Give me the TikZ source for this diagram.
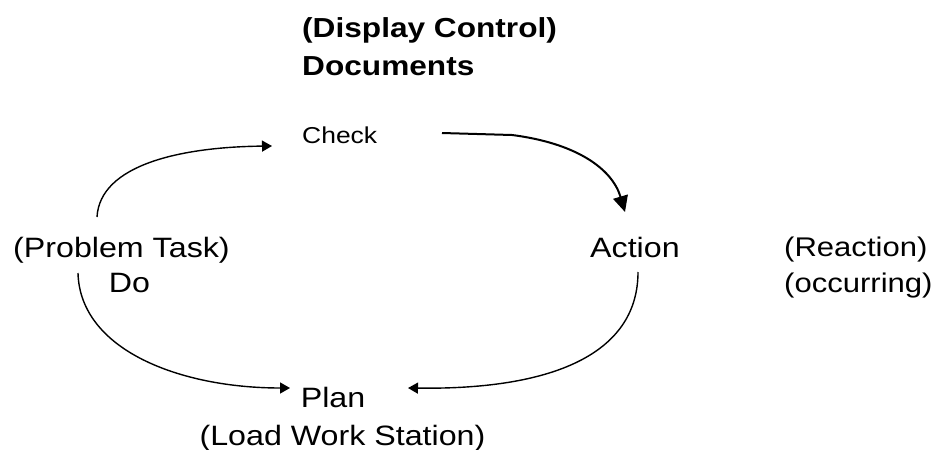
\documentclass[tikz,border=0pt]{standalone}
\usepackage{fontspec}
\setmainfont{Liberation Sans}[FakeStretch=1.15]
\usetikzlibrary{arrows.meta}
\begin{document}
\begin{tikzpicture}[x=1pt,y=-1pt,
  lbl/.style={inner sep=0pt, anchor=base west, font=\fontsize{28}{33}\selectfont},
  clbl/.style={lbl, anchor=base},
  side/.style={lbl, font=\fontsize{27}{32}\selectfont},
  head/.style={lbl, font=\fontsize{27.5}{33}\selectfont\bfseries},
  flow/.style={line width=1.4pt, -{Triangle[length=10pt,width=11pt]}},
  heavyflow/.style={line width=2pt, -{Triangle[length=16pt,width=15pt]}}]
\useasboundingbox (0,0) rectangle (938,450);

% labels
\node[head] (disp) at (302,37) {(Display Control)};
\node[head] (docs) at (302,75) {Documents};
\node[lbl, font=\fontsize{23}{28}\selectfont] (check) at (302,143) {Check};
\node[lbl] (task) at (13,257) {(Problem Task)};
\node[clbl] (do) at (129.5,292) {Do};
\node[lbl] (action) at (590,257) {Action};
\node[side] (react) at (784,256) {(Reaction)};
\node[side] (occur) at (784,292) {(occurring)};
\node[clbl] (plan) at (333,407) {Plan};
\node[clbl] (load) at (342.5,445) {(Load Work Station)};

% connector ends
\coordinate (doTop) at (97,217);
\coordinate (checkIn) at (272,146);
\coordinate (checkOut) at (442,133);
\coordinate (checkRun) at (512,135);
\coordinate (actionIn) at (625,212);
\coordinate (actionOut) at (638,272);
\coordinate (planRight) at (408,388);
\coordinate (doBottom) at (78,273);
\coordinate (planLeft) at (290,388);

% cycle arcs
\draw[flow] (doTop) .. controls (100,165) and (180,147) .. (checkIn);
\draw[heavyflow] (checkOut) -- (checkRun) .. controls (575,143) and (612,168) .. (actionIn);
\draw[flow] (actionOut) .. controls (638,350) and (560,390) .. (planRight);
\draw[flow] (doBottom) .. controls (80,350) and (180,388) .. (planLeft);
\end{tikzpicture}
\end{document}
